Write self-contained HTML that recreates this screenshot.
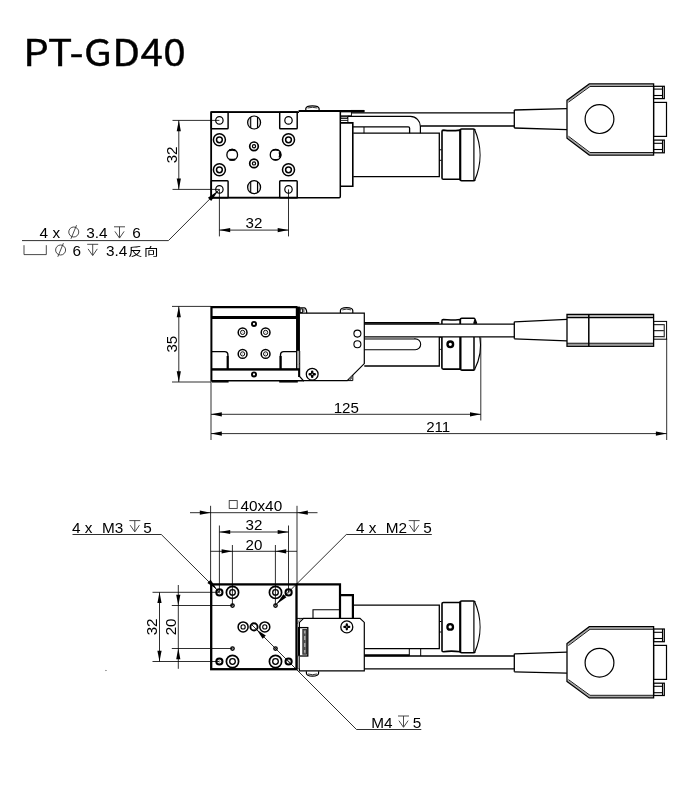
<!DOCTYPE html>
<html lang="zh-CN">
<head>
<meta charset="utf-8">
<title>PT-GD40</title>
<style>
html,body{margin:0;padding:0;background:#fff;}
body{width:700px;height:800px;overflow:hidden;}
svg{display:block;will-change:transform;}
svg text{fill:#000;stroke:none;font-family:"Liberation Sans","Noto Sans CJK SC",sans-serif;}
svg .ttl{font-family:"Noto Sans CJK SC","Liberation Sans",sans-serif;stroke:#000;stroke-width:.35px;}
svg .cjk{font-family:"Liberation Sans","Noto Sans CJK SC",sans-serif;}
</style>
</head>
<body>
<svg width="700" height="800" viewBox="0 0 700 800" fill="none" stroke="#000">
<rect x="0" y="0" width="700" height="800" style="fill:#fff;stroke:none"/>
<!-- Top view -->
<g>
<line x1="351.4" y1="112.9" x2="514.3" y2="112.9" stroke-width="1.3"/>
<line x1="420.6" y1="126" x2="514.3" y2="126" stroke-width="1.3"/>
<path d="M514.3 110 L566.9 108.7" stroke-width="1.3"/>
<path d="M514.3 128 L566.9 129.6" stroke-width="1.3"/>
<line x1="514.3" y1="110" x2="514.3" y2="128" stroke-width="1.3"/>
<path d="M567.7 101.2 L589.7 85.2 L653.6 85.2" stroke-width="1.6" stroke="#a8a8a8"/>
<path d="M567.7 137.2 L589.7 153.8 L653.6 153.8" stroke-width="1.6" stroke="#a8a8a8"/>
<path d="M568.4 102.2 L590 86.5 L653.6 86.5" stroke-width="0.9"/>
<path d="M568.4 136.2 L590 152.5 L653.6 152.5" stroke-width="0.9"/>
<path d="M567 100.2 L589.3 83.9 L653.6 83.9 L653.6 155.1 L589.3 155.1 L567 138.2 Z" stroke-width="1.3"/>
<circle cx="599.5" cy="119.1" r="14.4" stroke-width="1.2"/>
<rect x="653.6" y="86.3" width="10.7" height="12.3" stroke-width="1.25"/>
<line x1="653.6" y1="89.1" x2="662.6" y2="89.1" stroke-width="1.1"/>
<line x1="653.6" y1="95.5" x2="662.6" y2="95.5" stroke-width="1.1"/>
<line x1="662.5" y1="86.3" x2="662.5" y2="98.6" stroke-width="1.1"/>
<rect x="653.6" y="140.1" width="10.7" height="12.7" stroke-width="1.25"/>
<line x1="653.6" y1="143.3" x2="662.6" y2="143.3" stroke-width="1.1"/>
<line x1="653.6" y1="149.5" x2="662.6" y2="149.5" stroke-width="1.1"/>
<line x1="662.5" y1="140.1" x2="662.5" y2="152.8" stroke-width="1.1"/>
<rect x="653.6" y="102.4" width="12.9" height="34" stroke-width="1.2"/>
<path d="M353.2 133.2 L439.3 133.2 L439.3 176.7 L353.2 176.7" stroke-width="1.3"/>
<path d="M439.3 149.8 L441.6 149.8 M439.3 160.3 L441.6 160.3" stroke-width="1"/>
<path d="M443.3 130.1 Q451 131.2 460.2 130.1 L460.2 179.3 L443.3 179.3 Q442 179.3 442 178 L442 131.4 Q442 130.1 443.3 130.1" stroke-width="1.6"/>
<path d="M460.2 130.3 Q460.2 129 461.6 129 L473.4 129 Q474.6 129 475 130 M475 179.8 Q474.6 180.8 473.4 180.8 L461.6 180.8 Q460.2 180.8 460.2 179.5" stroke-width="1.6"/>
<line x1="460.3" y1="129.5" x2="460.3" y2="180.3" stroke-width="2"/>
<line x1="473.9" y1="129.2" x2="473.9" y2="180.6" stroke-width="1.2"/>
<path d="M474.6 129.4 A63 63 0 0 1 474.6 180.4" stroke-width="1.2"/>
<path d="M347.9 116.4 L410.4 116.4 A10 10 0 0 1 420.4 126.4 L420.4 133.2" stroke-width="1.2"/>
<path d="M353 126.9 L408.3 126.9 Q409.6 126.9 409.6 128.2 L409.6 133.2" stroke-width="1.3"/>
<line x1="364" y1="127" x2="364" y2="133.2" stroke-width="1"/>
<rect x="340.6" y="111.9" width="10.8" height="3.9" stroke-width="0.9"/>
<rect x="340.8" y="116.6" width="6.8" height="2" stroke-width="0.8" fill="#9a9a9a"/>
<line x1="340.6" y1="120.4" x2="347.9" y2="120.4" stroke-width="0.9"/>
<line x1="347.9" y1="115.8" x2="347.9" y2="122.6" stroke-width="0.9"/>
<path d="M340.6 122.9 L352.8 122.9 L352.8 186.3 L340.6 186.3" stroke-width="1.6"/>
<path d="M299 112.2 L211.2 112.2 L211.2 197.7 L339.2 197.7 Q340.3 197.7 340.3 196.6 L340.3 111.5" stroke-width="1.5"/>
<path d="M298 112.1 L211.3 112.1 L211.3 197.6 L298 197.6" stroke-width="1.5"/>
<line x1="298.6" y1="111" x2="364.4" y2="111" stroke-width="1.9"/>
<line x1="351" y1="111.2" x2="364.4" y2="111.2" stroke-width="2.5"/>
<path d="M305.8 110.2 L305.8 108.6 Q306 105.8 312.4 105.8 Q318.9 105.8 319.1 108.6 L319.1 110.2" stroke-width="1.2"/>
<path d="M307.6 108 Q312.4 106.6 317.3 108" stroke-width="0.8"/>
<rect x="211.3" y="112.2" width="16.8" height="16.5" stroke-width="1.45" rx="0.8"/>
<rect x="211.3" y="180.8" width="16.8" height="16.9" stroke-width="1.45" rx="0.8"/>
<rect x="279.7" y="112.2" width="17.5" height="16.5" stroke-width="1.45" rx="0.8"/>
<rect x="279.7" y="180.8" width="17.5" height="16.9" stroke-width="1.45" rx="0.8"/>
<circle cx="219.4" cy="120.4" r="3.7" stroke-width="1.2"/>
<circle cx="219.4" cy="189.4" r="3.7" stroke-width="1.2"/>
<circle cx="219.4" cy="139.8" r="6" stroke-width="1.5"/>
<circle cx="219.4" cy="139.8" r="2.9" stroke-width="1.5"/>
<circle cx="219.4" cy="169.8" r="6" stroke-width="1.5"/>
<circle cx="219.4" cy="169.8" r="2.9" stroke-width="1.5"/>
<circle cx="288.5" cy="120.4" r="3.7" stroke-width="1.2"/>
<circle cx="288.5" cy="189.4" r="3.7" stroke-width="1.2"/>
<circle cx="288.5" cy="139.8" r="6" stroke-width="1.5"/>
<circle cx="288.5" cy="139.8" r="2.9" stroke-width="1.5"/>
<circle cx="288.5" cy="169.8" r="6" stroke-width="1.5"/>
<circle cx="288.5" cy="169.8" r="2.9" stroke-width="1.5"/>
<path d="M250.7 116.9 A6.5 6.5 0 0 0 250.7 128.1 Z" stroke-width="0.1" fill="#d9d9d9" stroke="#d9d9d9"/>
<path d="M257.5 116.9 A6.5 6.5 0 0 1 257.5 128.1 Z" stroke-width="0.1" fill="#d9d9d9" stroke="#d9d9d9"/>
<circle cx="254.1" cy="122.5" r="6.5" stroke-width="1.2"/>
<line x1="250.7" y1="116.9" x2="250.7" y2="128.1" stroke-width="1.1"/>
<line x1="257.5" y1="116.9" x2="257.5" y2="128.1" stroke-width="1.1"/>
<path d="M250.7 181.6 A6.5 6.5 0 0 0 250.7 192.8 Z" stroke-width="0.1" fill="#d9d9d9" stroke="#d9d9d9"/>
<path d="M257.5 181.6 A6.5 6.5 0 0 1 257.5 192.8 Z" stroke-width="0.1" fill="#d9d9d9" stroke="#d9d9d9"/>
<circle cx="254.1" cy="187.2" r="6.5" stroke-width="1.2"/>
<line x1="250.7" y1="181.6" x2="250.7" y2="192.8" stroke-width="1.1"/>
<line x1="257.5" y1="181.6" x2="257.5" y2="192.8" stroke-width="1.1"/>
<circle cx="254" cy="146.3" r="4.3" stroke-width="1.7"/>
<circle cx="254" cy="146.3" r="1.6" stroke-width="1.2"/>
<circle cx="254" cy="163.4" r="4.3" stroke-width="1.7"/>
<circle cx="254" cy="163.4" r="1.6" stroke-width="1.2"/>
<rect x="226.9" y="149.5" width="10.6" height="10.6" stroke-width="1.3" rx="4.9"/>
<path d="M229.2 150.3 Q232.2 149.3 235.2 150.3" stroke-width="1.9"/>
<path d="M229.2 159.3 Q232.2 160.3 235.2 159.3" stroke-width="1.9"/>
<rect x="270.3" y="149.5" width="10.6" height="10.6" stroke-width="1.3" rx="4.9"/>
<path d="M272.8 150.2 Q275.6 149.3 278.4 150.2" stroke-width="1.5"/>
<path d="M272.8 159.4 Q275.6 160.3 278.4 159.4" stroke-width="1.5"/>
<path d="M279.6 152 Q280.8 154.8 279.6 157.6" stroke-width="2.3"/>
</g>
<!-- Side view -->
<g>
<line x1="364.3" y1="324.1" x2="514.3" y2="324.1" stroke-width="1.3"/>
<line x1="364.3" y1="336.9" x2="514.3" y2="336.9" stroke-width="1.3"/>
<path d="M514.3 321.8 L567 319.3" stroke-width="1.3"/>
<path d="M514.3 338.8 L567 340.8" stroke-width="1.3"/>
<line x1="514.3" y1="321.8" x2="514.3" y2="338.8" stroke-width="1.3"/>
<line x1="567" y1="316" x2="653.6" y2="316" stroke-width="1.6" stroke="#9a9a9a"/>
<line x1="567" y1="344.8" x2="653.6" y2="344.8" stroke-width="1.6" stroke="#9a9a9a"/>
<line x1="567" y1="317.6" x2="653.6" y2="317.6" stroke-width="1.1"/>
<line x1="567" y1="343.2" x2="653.6" y2="343.2" stroke-width="1.1"/>
<rect x="567" y="314.4" width="86.6" height="31.9" stroke-width="1.3"/>
<line x1="588.8" y1="314.4" x2="588.8" y2="346.3" stroke-width="1.5"/>
<rect x="653.6" y="321.4" width="13" height="17.8" stroke-width="1"/>
<line x1="653.6" y1="324.7" x2="664.4" y2="324.7" stroke-width="1"/>
<line x1="653.6" y1="330.7" x2="664.4" y2="330.7" stroke-width="1"/>
<line x1="653.6" y1="336.7" x2="664.4" y2="336.7" stroke-width="1"/>
<line x1="664.3" y1="324.2" x2="664.3" y2="337.2" stroke-width="1.4" stroke="#555"/>
<line x1="364.3" y1="322.9" x2="439.3" y2="322.9" stroke-width="1.9"/>
<path d="M439.3 336.9 L439.3 366 L364.3 366" stroke-width="1.3"/>
<path d="M364.3 338.9 L415.3 338.9 A5.4 5.4 0 0 1 415.3 349.7 L364.3 349.7" stroke-width="1.1"/>
<line x1="364.3" y1="338.2" x2="414" y2="338.2" stroke-width="1.6" stroke="#777"/>
<path d="M439.3 337.4 L441.4 337.4 M439.3 349.4 L441.4 349.4" stroke-width="0.8"/>
<path d="M441.9 324 L441.9 320.9 Q441.9 319.5 443.3 319.5 Q451 320.4 460.2 319.4 L460.2 324" stroke-width="1.5"/>
<path d="M441.9 336.9 L441.9 367.8 Q441.9 369.1 443.3 369.1 L460.2 369.1" stroke-width="1.6"/>
<path d="M460.4 324 L460.4 319.6 Q460.4 318.3 461.8 318.3 L473.6 318.3 Q474.6 318.3 475 319.2 L476.6 323.4" stroke-width="1.5"/>
<path d="M473.6 323.4 L476.4 323.4 L474.6 320 Z" stroke-width="0.8" fill="#000"/>
<path d="M460.4 336.9 L460.4 368.8 Q460.4 370.1 461.8 370.1 L473.6 370.1 Q474.4 370.1 474.8 369.4" stroke-width="1.6"/>
<line x1="460.4" y1="337" x2="460.4" y2="369.6" stroke-width="2"/>
<line x1="474" y1="337" x2="474" y2="369.8" stroke-width="1.5"/>
<path d="M479.8 337 C481.2 345 481.4 356 474.6 369.6" stroke-width="1.1"/>
<circle cx="450.3" cy="344.3" r="2.8" stroke-width="2.4"/>
<path d="M300 313.2 L364.3 313.2 L364.3 363.6 L347.2 380.7 L303.4 380.7 L299.6 376.4 L299.6 351" stroke-width="1.2"/>
<path d="M347.4 380.6 L352.8 380.6 L352.8 375.2" stroke-width="1"/>
<line x1="349.6" y1="379.6" x2="352.4" y2="376.8" stroke-width="2" stroke="#666"/>
<path d="M340.4 313 L340.4 310.6 Q340.6 307.6 346.6 307.6 Q352.6 307.6 352.8 310.6 L352.8 313" stroke-width="1.2"/>
<path d="M342.2 309.9 Q346.6 308.3 351 309.9" stroke-width="0.8"/>
<circle cx="357.4" cy="333.6" r="3.5" stroke-width="1.1"/>
<circle cx="357.4" cy="344.3" r="3.5" stroke-width="1.1"/>
<circle cx="312.2" cy="374.2" r="5.9" stroke-width="1.25"/>
<path d="M312.2 371.7V376.7M309.7 374.2H314.7" stroke-width="2.5" stroke-linecap="round"/>
<circle cx="312.2" cy="374.2" r="0.7" fill="#fff" stroke="none"/>
<path d="M299.6 307.9 L304.4 307.9 Q306.6 308.4 306.8 313.2" stroke-width="1.2"/>
<rect x="300.2" y="308.9" width="2.2" height="3.7" stroke-width="0.9"/>
<line x1="303.8" y1="308.6" x2="303.8" y2="312.8" stroke-width="1.6" stroke="#777"/>
<rect x="211.6" y="307.2" width="84.9" height="10.1" stroke-width="1.4"/>
<line x1="211" y1="307.2" x2="297.4" y2="307.2" stroke-width="2.2"/>
<line x1="211" y1="317.5" x2="297.4" y2="317.5" stroke-width="3"/>
<line x1="211.4" y1="306.2" x2="211.4" y2="381.6" stroke-width="2"/>
<line x1="298" y1="306.6" x2="298" y2="351" stroke-width="3.9"/>
<line x1="296.7" y1="351" x2="296.7" y2="369.4" stroke-width="1.3"/>
<rect x="297.5" y="351" width="1.6" height="12.4" stroke-width="0.4" fill="#b4b4b4" stroke="#777"/>
<rect x="297.5" y="364.4" width="1.6" height="3.8" stroke-width="0.4" fill="#b4b4b4" stroke="#777"/>
<line x1="211" y1="380.8" x2="304" y2="380.8" stroke-width="1.4"/>
<line x1="211.4" y1="369.5" x2="299.4" y2="369.5" stroke-width="1.4"/>
<line x1="211.4" y1="369.4" x2="299.4" y2="369.4" stroke-width="2.3"/>
<path d="M211.6 351.6 L224.6 351.6 Q227.9 351.6 227.9 355 L227.9 369" stroke-width="1.4"/>
<line x1="227.6" y1="356" x2="227.6" y2="369" stroke-width="2"/>
<path d="M296.4 351.6 L283.8 351.6 Q280.5 351.6 280.5 355 L280.5 369" stroke-width="1.4"/>
<line x1="280.6" y1="356" x2="280.6" y2="369" stroke-width="2.2"/>
<line x1="298.6" y1="369.4" x2="298.6" y2="377" stroke-width="1"/>
<line x1="212" y1="381.8" x2="228.6" y2="381.8" stroke-width="1.5"/>
<line x1="279.2" y1="381.8" x2="297.8" y2="381.8" stroke-width="1.5"/>
<circle cx="254" cy="323.9" r="2.05" stroke-width="1.9"/>
<circle cx="254" cy="374.4" r="2.05" stroke-width="1.9"/>
<circle cx="242.6" cy="332.4" r="4.4" stroke-width="1.5"/>
<circle cx="242.6" cy="332.4" r="2.1" stroke-width="0.95"/>
<circle cx="242.6" cy="332.4" r="0.4" stroke-width="0.5" stroke="#888"/>
<circle cx="242.6" cy="353.9" r="4.4" stroke-width="1.5"/>
<circle cx="242.6" cy="353.9" r="2.1" stroke-width="0.95"/>
<circle cx="242.6" cy="353.9" r="0.4" stroke-width="0.5" stroke="#888"/>
<circle cx="265.6" cy="332.4" r="4.4" stroke-width="1.5"/>
<circle cx="265.6" cy="332.4" r="2.1" stroke-width="0.95"/>
<circle cx="265.6" cy="332.4" r="0.4" stroke-width="0.5" stroke="#888"/>
<circle cx="265.6" cy="353.9" r="4.4" stroke-width="1.5"/>
<circle cx="265.6" cy="353.9" r="2.1" stroke-width="0.95"/>
<circle cx="265.6" cy="353.9" r="0.4" stroke-width="0.5" stroke="#888"/>
</g>
<!-- Bottom view -->
<g>
<path d="M514.3 671.8 L566.9 673.1" stroke-width="1.3"/>
<path d="M514.3 653.8 L566.9 652.2" stroke-width="1.3"/>
<line x1="514.3" y1="671.8" x2="514.3" y2="653.8" stroke-width="1.3"/>
<path d="M567.7 680.6 L589.7 696.6 L653.6 696.6" stroke-width="1.6" stroke="#a8a8a8"/>
<path d="M567.7 644.6 L589.7 628 L653.6 628" stroke-width="1.6" stroke="#a8a8a8"/>
<path d="M568.4 679.6 L590 695.3 L653.6 695.3" stroke-width="0.9"/>
<path d="M568.4 645.6 L590 629.3 L653.6 629.3" stroke-width="0.9"/>
<path d="M567 681.6 L589.3 697.9 L653.6 697.9 L653.6 626.7 L589.3 626.7 L567 643.6 Z" stroke-width="1.3"/>
<circle cx="599.5" cy="662.7" r="14.4" stroke-width="1.2"/>
<rect x="653.6" y="683.2" width="10.7" height="12.3" stroke-width="1.25"/>
<line x1="653.6" y1="692.7" x2="662.6" y2="692.7" stroke-width="1.1"/>
<line x1="653.6" y1="686.3" x2="662.6" y2="686.3" stroke-width="1.1"/>
<line x1="662.5" y1="695.5" x2="662.5" y2="683.2" stroke-width="1.1"/>
<rect x="653.6" y="629" width="10.7" height="12.7" stroke-width="1.25"/>
<line x1="653.6" y1="638.5" x2="662.6" y2="638.5" stroke-width="1.1"/>
<line x1="653.6" y1="632.3" x2="662.6" y2="632.3" stroke-width="1.1"/>
<line x1="662.5" y1="641.7" x2="662.5" y2="629" stroke-width="1.1"/>
<rect x="653.6" y="645.4" width="12.9" height="34" stroke-width="1.2"/>
<path d="M364.3 648.6 L439.3 648.6 L439.3 605.1 L352.9 605.1" stroke-width="1.3"/>
<path d="M439.3 632 L441.6 632 M439.3 621.5 L441.6 621.5" stroke-width="1"/>
<path d="M443.3 651.7 Q451 650.6 460.2 651.7 L460.2 602.5 L443.3 602.5 Q442 602.5 442 603.8 L442 650.4 Q442 651.7 443.3 651.7" stroke-width="1.6"/>
<path d="M460.2 651.5 Q460.2 652.8 461.6 652.8 L473.4 652.8 Q474.6 652.8 475 651.8 M475 602 Q474.6 601 473.4 601 L461.6 601 Q460.2 601 460.2 602.3" stroke-width="1.6"/>
<line x1="460.3" y1="652.3" x2="460.3" y2="601.5" stroke-width="2"/>
<line x1="473.9" y1="652.6" x2="473.9" y2="601.2" stroke-width="1.2"/>
<path d="M474.6 652.4 A63 63 0 0 0 474.6 601.4" stroke-width="1.2"/>
<circle cx="450.2" cy="626.9" r="2.8" stroke-width="2.3"/>
<line x1="364.3" y1="656" x2="514.3" y2="656" stroke-width="1.3"/>
<line x1="364.3" y1="668.9" x2="514.3" y2="668.9" stroke-width="1.3"/>
<line x1="409.3" y1="648.6" x2="409.3" y2="656" stroke-width="1"/>
<line x1="420.7" y1="648.6" x2="420.7" y2="656" stroke-width="1"/>
<line x1="364.3" y1="655.2" x2="409.3" y2="655.2" stroke-width="2"/>
<path d="M296.6 584.4 L340 584.4 L340 618.4" stroke-width="2.2"/>
<path d="M340 595.2 L352.9 595.2 L352.9 618.4" stroke-width="2.2"/>
<path d="M313 618.4 L313 609.8 L340 609.8" stroke-width="1.1"/>
<path d="M303.6 618.4 L360 618.4 L364.3 622.4 L364.3 670.9 L299.4 670.9 L299.4 622.4 L303.6 618.4 Z" stroke-width="1.2"/>
<path d="M297 618.4 L303.6 618.4" stroke-width="1"/>
<path d="M297.4 624 Q298 620 301 618.8" stroke-width="0.8" stroke="#666"/>
<circle cx="346.8" cy="626.9" r="6" stroke-width="1.3"/>
<path d="M346.8 624.5V629.3M344.4 626.9H349.2" stroke-width="2.3" stroke-linecap="round"/>
<circle cx="346.8" cy="626.9" r="0.6" fill="#e8e8e8" stroke="none"/>
<rect x="298.6" y="627.6" width="9.2" height="28.4" stroke-width="1.3"/>
<rect x="303.1" y="629.4" width="3.4" height="24.8" stroke-width="0.9" fill="#6e6e6e" stroke="#222"/>
<path d="M304.8 631 L304.8 652.6" stroke-width="0.9" stroke="#c8c8c8"/>
<path d="M304.8 633.5V636M304.8 640V643M304.8 647V650" stroke="#3a3a3a" stroke-width="1.2"/>
<line x1="302.6" y1="629" x2="302.6" y2="654.6" stroke-width="0.8" stroke="#555"/>
<rect x="297" y="656" width="2.2" height="12.4" stroke-width="0.7" fill="#bbb" stroke="#555"/>
<path d="M306.4 671.2 L306.4 673.2 Q306.6 676.1 312.4 676.1 Q318.4 676.1 318.6 673.2 L318.6 671.2" stroke-width="1.2"/>
<path d="M308 674 Q312.4 675.4 317 674" stroke-width="0.8"/>
<rect x="211.2" y="584.4" width="85.3" height="84.8" stroke-width="2.3"/>
<circle cx="219.4" cy="592.4" r="3.1" stroke-width="2"/>
<circle cx="219.4" cy="592.4" r="0.9" stroke-width="0.6" stroke="#888"/>
<circle cx="219.4" cy="661.5" r="3.1" stroke-width="2"/>
<circle cx="219.4" cy="661.5" r="0.9" stroke-width="0.6" stroke="#888"/>
<circle cx="288.6" cy="592.4" r="3.1" stroke-width="2"/>
<circle cx="288.6" cy="592.4" r="0.9" stroke-width="0.6" stroke="#888"/>
<circle cx="288.6" cy="661.5" r="3.1" stroke-width="2"/>
<circle cx="288.6" cy="661.5" r="0.9" stroke-width="0.6" stroke="#888"/>
<circle cx="232.5" cy="592.4" r="6.1" stroke-width="1.7"/>
<circle cx="232.5" cy="592.4" r="2.8" stroke-width="1.3"/>
<circle cx="232.5" cy="661.5" r="6.1" stroke-width="1.7"/>
<circle cx="232.5" cy="661.5" r="2.8" stroke-width="1.3"/>
<circle cx="232.5" cy="605.5" r="1.75" stroke-width="1.25" fill="#b0b0b0"/>
<circle cx="232.5" cy="648.5" r="1.75" stroke-width="1.25" fill="#b0b0b0"/>
<circle cx="275.5" cy="592.4" r="6.1" stroke-width="1.7"/>
<circle cx="275.5" cy="592.4" r="2.8" stroke-width="1.3"/>
<circle cx="275.5" cy="661.5" r="6.1" stroke-width="1.7"/>
<circle cx="275.5" cy="661.5" r="2.8" stroke-width="1.3"/>
<circle cx="275.5" cy="605.5" r="1.75" stroke-width="1.25" fill="#b0b0b0"/>
<circle cx="275.5" cy="648.5" r="1.75" stroke-width="1.25" fill="#b0b0b0"/>
<circle cx="243.1" cy="626.9" r="5" stroke-width="1.5"/>
<circle cx="243.1" cy="626.9" r="2.1" stroke-width="1.1"/>
<circle cx="264.8" cy="626.9" r="5" stroke-width="1.5"/>
<circle cx="264.8" cy="626.9" r="2.1" stroke-width="1.1"/>
<circle cx="254" cy="626.9" r="3.6" stroke-width="1.9"/>
</g>
<!-- Dimensions -->
<g>
<line x1="172.5" y1="120.4" x2="219.4" y2="120.4" stroke-width="0.82"/>
<line x1="172.5" y1="189.4" x2="219.4" y2="189.4" stroke-width="0.82"/>
<line x1="178.8" y1="120.4" x2="178.8" y2="189.4" stroke-width="0.82"/>
<polygon points="178.8,120.4 176.7,131.2 180.9,131.2" fill="#000" stroke="none"/>
<polygon points="178.8,189.4 176.7,178.6 180.9,178.6" fill="#000" stroke="none"/>
<text transform="translate(177 154.9) rotate(-90) scale(1.08 1)" font-size="14" text-anchor="middle">32</text>
<line x1="219.4" y1="189.4" x2="219.4" y2="236.4" stroke-width="0.82"/>
<line x1="288.5" y1="189.4" x2="288.5" y2="236.4" stroke-width="0.82"/>
<line x1="219.4" y1="230.1" x2="288.5" y2="230.1" stroke-width="0.82"/>
<polygon points="219.4,230.1 230.2,228 230.2,232.2" fill="#000" stroke="none"/>
<polygon points="288.5,230.1 277.7,228 277.7,232.2" fill="#000" stroke="none"/>
<text transform="translate(254 228.3) scale(1.08 1)" font-size="14" text-anchor="middle">32</text>
<path d="M22 240.6 L168.4 240.6 L219.4 189.4" stroke-width="0.82"/>
<polygon points="218.4,190.6 211.19,201.07 207.93,197.81" fill="#000" stroke="none"/>
<line x1="172" y1="306.4" x2="211" y2="306.4" stroke-width="0.82"/>
<line x1="172" y1="382" x2="211" y2="382" stroke-width="0.82"/>
<line x1="178.8" y1="306.4" x2="178.8" y2="382" stroke-width="0.82"/>
<polygon points="178.8,306.4 176.7,317.2 180.9,317.2" fill="#000" stroke="none"/>
<polygon points="178.8,382 176.7,371.2 180.9,371.2" fill="#000" stroke="none"/>
<text transform="translate(177 344.2) rotate(-90) scale(1.08 1)" font-size="14" text-anchor="middle">35</text>
<line x1="211" y1="382" x2="211" y2="440" stroke-width="0.82"/>
<line x1="480.8" y1="337.5" x2="480.8" y2="420.5" stroke-width="0.82"/>
<line x1="666.7" y1="338.7" x2="666.7" y2="440" stroke-width="0.82"/>
<line x1="211" y1="414.3" x2="480.8" y2="414.3" stroke-width="0.82"/>
<line x1="211" y1="433.6" x2="666.7" y2="433.6" stroke-width="0.82"/>
<polygon points="211,414.3 221.8,412.2 221.8,416.4" fill="#000" stroke="none"/>
<polygon points="480.8,414.3 470,412.2 470,416.4" fill="#000" stroke="none"/>
<polygon points="211,433.6 221.8,431.5 221.8,435.7" fill="#000" stroke="none"/>
<polygon points="666.7,433.6 655.9,431.5 655.9,435.7" fill="#000" stroke="none"/>
<text transform="translate(346.3 412.5) scale(1.08 1)" font-size="14" text-anchor="middle">125</text>
<text transform="translate(438.2 432) scale(1.08 1)" font-size="14" text-anchor="middle">211</text>
<line x1="210.6" y1="505.8" x2="210.6" y2="584.4" stroke-width="0.82"/>
<line x1="297" y1="505.8" x2="297" y2="584.4" stroke-width="0.82"/>
<line x1="190" y1="512.7" x2="317.5" y2="512.7" stroke-width="0.82"/>
<polygon points="210.6,512.7 199.8,510.6 199.8,514.8" fill="#000" stroke="none"/>
<polygon points="297,512.7 307.8,510.6 307.8,514.8" fill="#000" stroke="none"/>
<line x1="219.4" y1="525.5" x2="219.4" y2="592.3" stroke-width="0.82"/>
<line x1="288.5" y1="525.5" x2="288.5" y2="592.3" stroke-width="0.82"/>
<line x1="219.4" y1="532" x2="288.5" y2="532" stroke-width="0.82"/>
<polygon points="219.4,532 230.2,529.9 230.2,534.1" fill="#000" stroke="none"/>
<polygon points="288.5,532 277.7,529.9 277.7,534.1" fill="#000" stroke="none"/>
<text transform="translate(254 530.2) scale(1.08 1)" font-size="14" text-anchor="middle">32</text>
<line x1="232.4" y1="545" x2="232.4" y2="605.5" stroke-width="0.82"/>
<line x1="275.4" y1="545" x2="275.4" y2="605.5" stroke-width="0.82"/>
<line x1="210.6" y1="551.3" x2="297" y2="551.3" stroke-width="0.82"/>
<polygon points="232.4,551.3 221.6,549.2 221.6,553.4" fill="#000" stroke="none"/>
<polygon points="275.4,551.3 286.2,549.2 286.2,553.4" fill="#000" stroke="none"/>
<text transform="translate(254 549.8) scale(1.08 1)" font-size="14" text-anchor="middle">20</text>
<line x1="152.5" y1="592.3" x2="219.4" y2="592.3" stroke-width="0.82"/>
<line x1="152.5" y1="661.5" x2="219.4" y2="661.5" stroke-width="0.82"/>
<line x1="159.5" y1="592.3" x2="159.5" y2="661.5" stroke-width="0.82"/>
<polygon points="159.5,592.3 157.4,603.1 161.6,603.1" fill="#000" stroke="none"/>
<polygon points="159.5,661.5 157.4,650.7 161.6,650.7" fill="#000" stroke="none"/>
<text transform="translate(156.8 626.9) rotate(-90) scale(1.08 1)" font-size="14" text-anchor="middle">32</text>
<line x1="171.8" y1="605.5" x2="232.4" y2="605.5" stroke-width="0.82"/>
<line x1="171.8" y1="648.5" x2="232.4" y2="648.5" stroke-width="0.82"/>
<line x1="178.3" y1="585" x2="178.3" y2="668.8" stroke-width="0.82"/>
<polygon points="178.3,605.5 176.2,594.7 180.4,594.7" fill="#000" stroke="none"/>
<polygon points="178.3,648.5 176.2,659.3 180.4,659.3" fill="#000" stroke="none"/>
<text transform="translate(176.2 626.9) rotate(-90) scale(1.08 1)" font-size="14" text-anchor="middle">20</text>
<rect x="105.8" y="670" width="1" height="1" stroke-width="0.1" fill="#999" stroke="#999"/>
<path d="M72.5 534.5 L161.3 534.5 L219.4 592.3" stroke-width="0.82"/>
<polygon points="216.8,589.2 207.4,583.05 210.65,579.8" fill="#000" stroke="none"/>
<path d="M431.8 534.5 L346.3 534.5 L275.4 605.1" stroke-width="0.82"/>
<polygon points="276.4,604.2 283.33,594.16 286.44,597.27" fill="#000" stroke="none"/>
<path d="M421.3 729.5 L356.5 729.5 L251.6 624.6" stroke-width="0.82"/>
<polygon points="256.8,629.7 265.78,635.57 262.67,638.68" fill="#000" stroke="none"/>
</g>
<!-- Labels -->
<g>
<text class="ttl" transform="translate(23.2 65.6) scale(1.11 1)" font-size="36.4" letter-spacing="0.4">PT-GD40</text>
<text transform="translate(39.6 238.2) scale(1.08 1)" font-size="14.2">4 x</text>
<circle cx="73.75" cy="232" r="5" stroke="#2a2a2a" stroke-width="0.85"/>
<line x1="76.55" y1="225.2" x2="70.95" y2="238.8" stroke="#2a2a2a" stroke-width="0.85"/>
<text transform="translate(86.2 238.2) scale(1.08 1)" font-size="14.2">3.4</text>
<path d="M114 226.8H125M119.5 226.8V237.5M114.9 231.4L119.5 238.1L124.1 231.4" stroke="#2a2a2a" stroke-width="0.85"/>
<text transform="translate(132.2 238.2) scale(1.08 1)" font-size="14.2">6</text>
<path d="M24 245.2V254.6H46.3V245.2" stroke="#2a2a2a" stroke-width="0.85"/>
<circle cx="60.6" cy="250" r="5" stroke="#2a2a2a" stroke-width="0.85"/>
<line x1="63.4" y1="243.2" x2="57.8" y2="256.8" stroke="#2a2a2a" stroke-width="0.85"/>
<text transform="translate(72.6 256) scale(1.08 1)" font-size="14.2">6</text>
<path d="M87.2 244.3H98.2M92.7 244.3V255M88.1 248.9L92.7 255.6L97.3 248.9" stroke="#2a2a2a" stroke-width="0.85"/>
<text transform="translate(106 256) scale(1.08 1)" font-size="14.2">3.4</text>
<text transform="translate(128.2 256) scale(1.22 1)" font-size="11.8" class="cjk" letter-spacing="1.2">反向</text>
<text transform="translate(72 532.8) scale(1.08 1)" font-size="14.2">4 x</text>
<text transform="translate(102 532.8) scale(1.08 1)" font-size="14.2">M3</text>
<path d="M129.3 520.6H140.3M134.8 520.6V531.3M130.2 525.2L134.8 531.9L139.4 525.2" stroke="#2a2a2a" stroke-width="0.85"/>
<text transform="translate(143.2 532.8) scale(1.08 1)" font-size="14.2">5</text>
<text transform="translate(356 532.8) scale(1.08 1)" font-size="14.2">4 x</text>
<text transform="translate(385.8 532.8) scale(1.08 1)" font-size="14.2">M2</text>
<path d="M408.7 520.6H419.7M414.2 520.6V531.3M409.6 525.2L414.2 531.9L418.8 525.2" stroke="#2a2a2a" stroke-width="0.85"/>
<text transform="translate(423.2 532.8) scale(1.08 1)" font-size="14.2">5</text>
<text transform="translate(371.2 727.5) scale(1.08 1)" font-size="14.2">M4</text>
<path d="M398 716H409M403.5 716V726.7M398.9 720.6L403.5 727.3L408.1 720.6" stroke="#2a2a2a" stroke-width="0.85"/>
<text transform="translate(412.8 727.5) scale(1.08 1)" font-size="14.2">5</text>
<rect x="229.2" y="500.6" width="8" height="7.8" stroke="#2a2a2a" stroke-width="0.85"/>
<text transform="translate(240.4 511) scale(1.08 1)" font-size="14.2">40x40</text>
</g>
</svg>
</body>
</html>
